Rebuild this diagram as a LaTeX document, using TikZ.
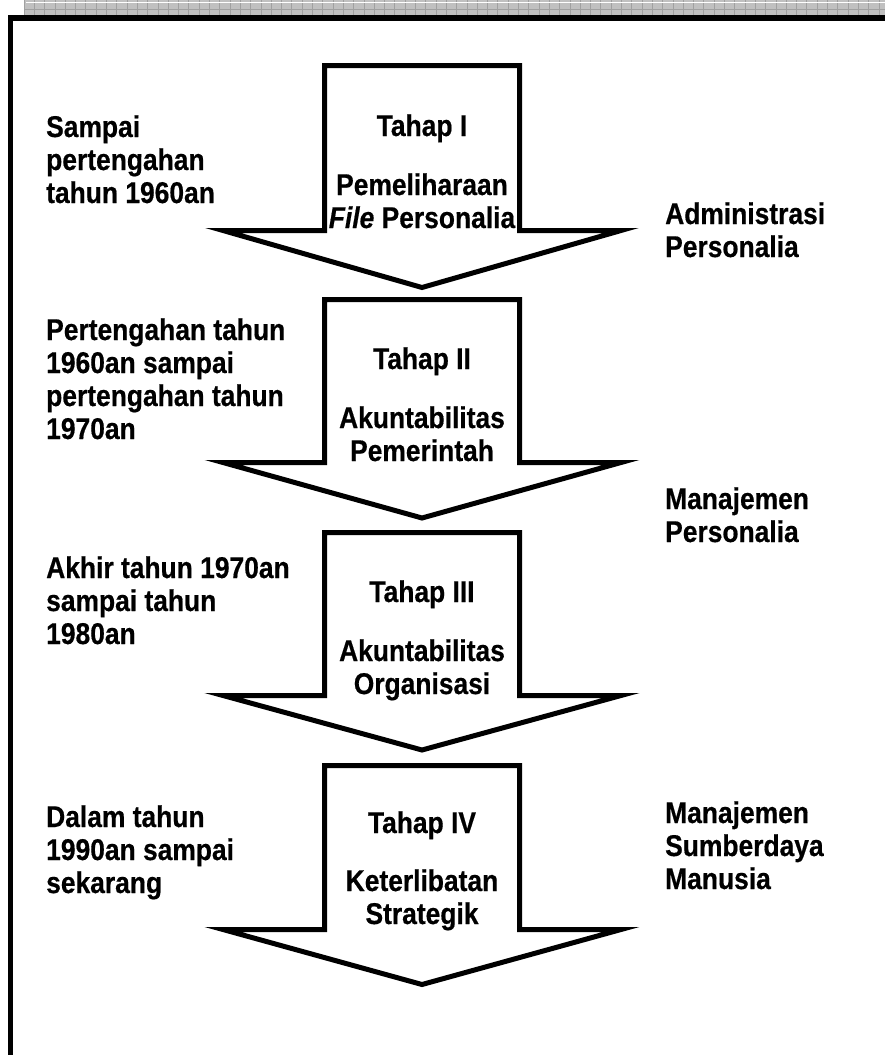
\documentclass[tikz,border=0pt]{standalone}
\usepackage{fontspec}
\setmainfont{Liberation Sans}[FakeStretch=0.88, BoldFeatures={FakeBold=0.5}, BoldItalicFeatures={FakeBold=0.5}]
\newcommand{\llines}[1]{\vtop{\baselineskip=33pt\lineskip=0pt\lineskiplimit=-50pt\halign{##\hfil\cr#1\crcr}}}
\newcommand{\clines}[1]{\vtop{\baselineskip=33pt\lineskip=0pt\lineskiplimit=-50pt\halign{\hfil##\hfil\cr#1\crcr}}}
\definecolor{stripgray}{RGB}{192,192,192}
\definecolor{gridgray}{RGB}{160,160,160}
\tikzset{
  txt/.style={inner sep=0pt, font=\fontsize{30}{33}\selectfont\bfseries, text=black},
  ltxt/.style={txt, anchor=base west},
  ctxt/.style={txt, anchor=base},
  bigarrow/.style={draw=black, fill=white, line width=5pt, line join=miter, miter limit=20},
}
\newcommand{\stagearrow}[3]{%
  \draw[bigarrow] (422-97.5,#1) -- (422+97.5,#1) -- (422+97.5,#2) -- (422+199,#2)
    -- (422,#3) -- (422-199,#2) -- (422-97.5,#2) -- cycle;}
\begin{document}
\begin{tikzpicture}[x=1pt,y=-1pt]
\useasboundingbox (0,0) rectangle (885,1055);
% top strip
\fill[stripgray] (24,0) rectangle (885,15);
\foreach \i in {0,...,84} {\draw[gridgray, line width=0.8pt] (24+\i*10.3,0) -- (24+\i*10.3,15);}
\draw[gridgray, line width=0.8pt] (24,9.5) -- (885,9.5);
\draw[white, line width=1pt] (26,2) -- (885,2);
% frame
\draw[line width=5.7pt] (10.5,1055) -- (10.5,18) -- (885,18);
% arrows
\stagearrow{65.5}{230.5}{287.5}
\stagearrow{299.5}{462.5}{518}
\stagearrow{532.5}{695.5}{750}
\stagearrow{765.5}{929.5}{984.5}
% stage texts
\node[ctxt] (t1) at (422,136) {Tahap I};
\node[ctxt] (n1) at (422,195) {\clines{Pemeliharaan\cr \textit{File} Personalia}};
\node[ctxt] (t2) at (422,369) {Tahap II};
\node[ctxt] (n2) at (422,428) {\clines{Akuntabilitas\cr Pemerintah}};
\node[ctxt] (t3) at (422,602) {Tahap III};
\node[ctxt] (n3) at (422,661) {\clines{Akuntabilitas\cr Organisasi}};
\node[ctxt] (t4) at (422,833) {Tahap IV};
\node[ctxt] (n4) at (422,891) {\clines{Keterlibatan\cr Strategik}};
% left texts
\node[ltxt] (l1) at (46,137) {\llines{Sampai\cr pertengahan\cr tahun 1960an}};
\node[ltxt] (l2) at (46,340) {\llines{Pertengahan tahun\cr 1960an sampai\cr pertengahan tahun\cr 1970an}};
\node[ltxt] (l3) at (46,578) {\llines{Akhir tahun 1970an\cr sampai tahun\cr 1980an}};
\node[ltxt] (l4) at (46,827) {\llines{Dalam tahun\cr 1990an sampai\cr sekarang}};
% right texts
\node[ltxt] (r1) at (665,224) {\llines{Administrasi\cr Personalia}};
\node[ltxt] (r2) at (665,509) {\llines{Manajemen\cr Personalia}};
\node[ltxt] (r4) at (665,823) {\llines{Manajemen\cr Sumberdaya\cr Manusia}};
\end{tikzpicture}
\end{document}
